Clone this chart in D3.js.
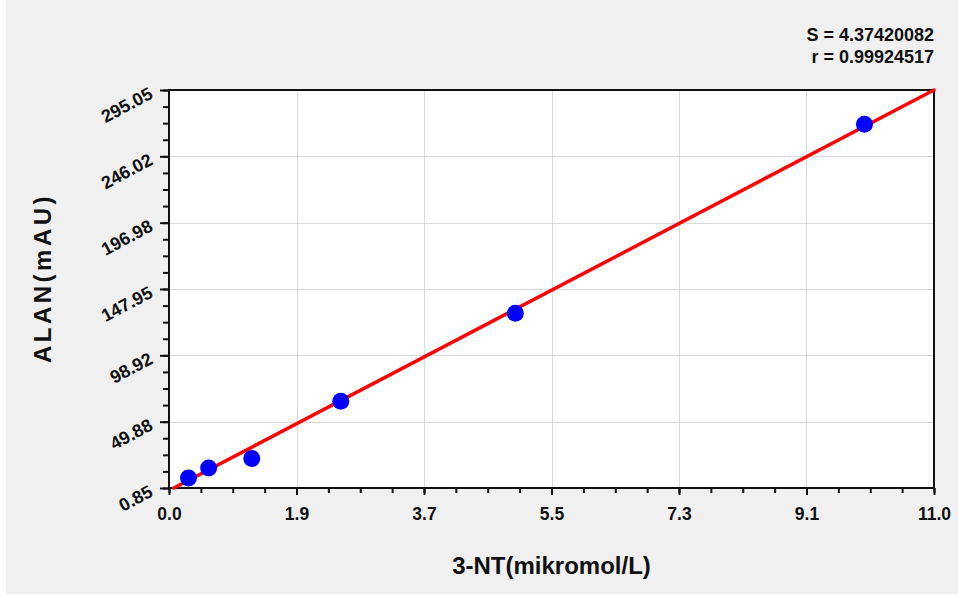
<!DOCTYPE html>
<html>
<head>
<meta charset="utf-8">
<script src="https://cdn.jsdelivr.net/npm/d3@7"></script>
<style>
  html, body { margin: 0; padding: 0; background: #ffffff; }
  svg { display: block; }
  text { font-family: "Liberation Sans", Arial, sans-serif; font-weight: bold; fill: #111; }
</style>
</head>
<body>
<svg id="chart" width="958" height="597"></svg>
<script>
// ---- Data ----
const pointX = [0.28, 0.57, 1.19, 2.47, 4.98, 10.0];
const pointY = [8.2, 15.6, 22.6, 65.0, 130.0, 269.7];
const fitX = [0.07, 11.0];
const fitY = [0.85, 295.05];
const xTickLabels = ["0.0", "1.9", "3.7", "5.5", "7.3", "9.1", "11.0"];
const yTickLabels = ["0.85", "49.88", "98.92", "147.95", "196.98", "246.02", "295.05"];
const xDomain = [0, 11];
const yDomain = [0.85, 295.05];
const statLines = ["S = 4.37420082", "r = 0.99924517"];
const xTitle = "3-NT(mikromol/L)";
const yTitle = "ALAN(mAU)";

// ---- Layout ----
const W = 958, H = 597;
const plot = { left: 169, right: 934, top: 90, bottom: 488 };

const svg = d3.select("#chart");

// background panel
svg.append("rect").attr("x", 6).attr("y", 0).attr("width", W - 6).attr("height", 594)
  .attr("fill", "#f0f0f0");

const x = d3.scaleLinear().domain(xDomain).range([plot.left, plot.right]);
const y = d3.scaleLinear().domain(yDomain).range([plot.bottom, plot.top]);

// plot area
svg.append("rect").attr("x", plot.left).attr("y", plot.top)
  .attr("width", plot.right - plot.left).attr("height", plot.bottom - plot.top)
  .attr("fill", "#ffffff");

// tick values
const nMaj = xTickLabels.length - 1;
const xMajor = d3.range(nMaj + 1).map(i => xDomain[0] + (xDomain[1] - xDomain[0]) * i / nMaj);
const xMinor = d3.range(nMaj * 4 + 1).map(i => xDomain[0] + (xDomain[1] - xDomain[0]) * i / (nMaj * 4));
const nMajY = yTickLabels.length - 1;
const yMajor = d3.range(nMajY + 1).map(i => yDomain[0] + (yDomain[1] - yDomain[0]) * i / nMajY);
const yMinor = d3.range(nMajY * 4 + 1).map(i => yDomain[0] + (yDomain[1] - yDomain[0]) * i / (nMajY * 4));

// grid lines
const grid = svg.append("g").attr("stroke", "#d9d9d9").attr("stroke-width", 1);
grid.selectAll(".gx").data(xMajor.slice(1, -1)).join("line")
  .attr("x1", d => Math.round(x(d)) + 0.5).attr("x2", d => Math.round(x(d)) + 0.5)
  .attr("y1", plot.top).attr("y2", plot.bottom);
grid.selectAll(".gy").data(yMajor.slice(1, -1)).join("line")
  .attr("y1", d => Math.round(y(d)) + 0.5).attr("y2", d => Math.round(y(d)) + 0.5)
  .attr("x1", plot.left).attr("x2", plot.right);

// axes with minor ticks
const xAxisMinor = d3.axisBottom(x).tickValues(xMinor).tickSize(5).tickFormat("");
const xAxisMajor = d3.axisBottom(x).tickValues(xMajor).tickSize(7)
  .tickFormat((d, i) => xTickLabels[i]);
const yAxisMinor = d3.axisLeft(y).tickValues(yMinor).tickSize(6).tickFormat("");
const yAxisMajor = d3.axisLeft(y).tickValues(yMajor).tickSize(9)
  .tickFormat((d, i) => yTickLabels[i]);

function styleAxis(g) {
  g.select(".domain").remove();
  g.selectAll(".tick line").attr("stroke", "#111").attr("stroke-width", 2);
}

svg.append("g").attr("transform", `translate(0,${plot.bottom})`).call(xAxisMinor).call(styleAxis);
const gx = svg.append("g").attr("transform", `translate(0,${plot.bottom})`).call(xAxisMajor).call(styleAxis);
gx.selectAll(".tick text").attr("font-size", 17.5).attr("font-family", null).attr("fill", "#111")
  .attr("y", 20).attr("dy", "0.71em");

svg.append("g").attr("transform", `translate(${plot.left},0)`).call(yAxisMinor).call(styleAxis);
const gy = svg.append("g").attr("transform", `translate(${plot.left},0)`).call(yAxisMajor).call(styleAxis);
gy.selectAll(".tick text").attr("font-size", 18).attr("font-family", null).attr("fill", "#111")
  .attr("x", null).attr("dy", null)
  .attr("text-anchor", "end")
  .attr("transform", "translate(-15,7) rotate(-28)");

// frame
svg.append("rect").attr("x", plot.left).attr("y", plot.top)
  .attr("width", plot.right - plot.left).attr("height", plot.bottom - plot.top)
  .attr("fill", "none").attr("stroke", "#111").attr("stroke-width", 2);

// fit line
const line = d3.line().x(d => x(d[0])).y(d => y(d[1]));
svg.append("path").datum(d3.zip(fitX, fitY)).attr("d", line)
  .attr("fill", "none").attr("stroke", "#ff0000").attr("stroke-width", 3.5)
  .attr("stroke-linecap", "round");

// points
svg.append("g").selectAll("circle").data(d3.zip(pointX, pointY)).join("circle")
  .attr("cx", d => x(d[0])).attr("cy", d => y(d[1])).attr("r", 8.5)
  .attr("fill", "#0000ff");

// stats
svg.append("g").selectAll("text").data(statLines).join("text")
  .attr("x", 934).attr("y", (d, i) => 41 + i * 22)
  .attr("text-anchor", "end").attr("font-size", 18).text(d => d);

// axis titles
svg.append("text").attr("x", (plot.left + plot.right) / 2).attr("y", 574)
  .attr("text-anchor", "middle").attr("font-size", 24).text(xTitle);
svg.append("text").attr("transform", "translate(51,278) rotate(-90)")
  .attr("text-anchor", "middle").attr("font-size", 24).attr("letter-spacing", 3.5).text(yTitle);
</script>
</body>
</html>
